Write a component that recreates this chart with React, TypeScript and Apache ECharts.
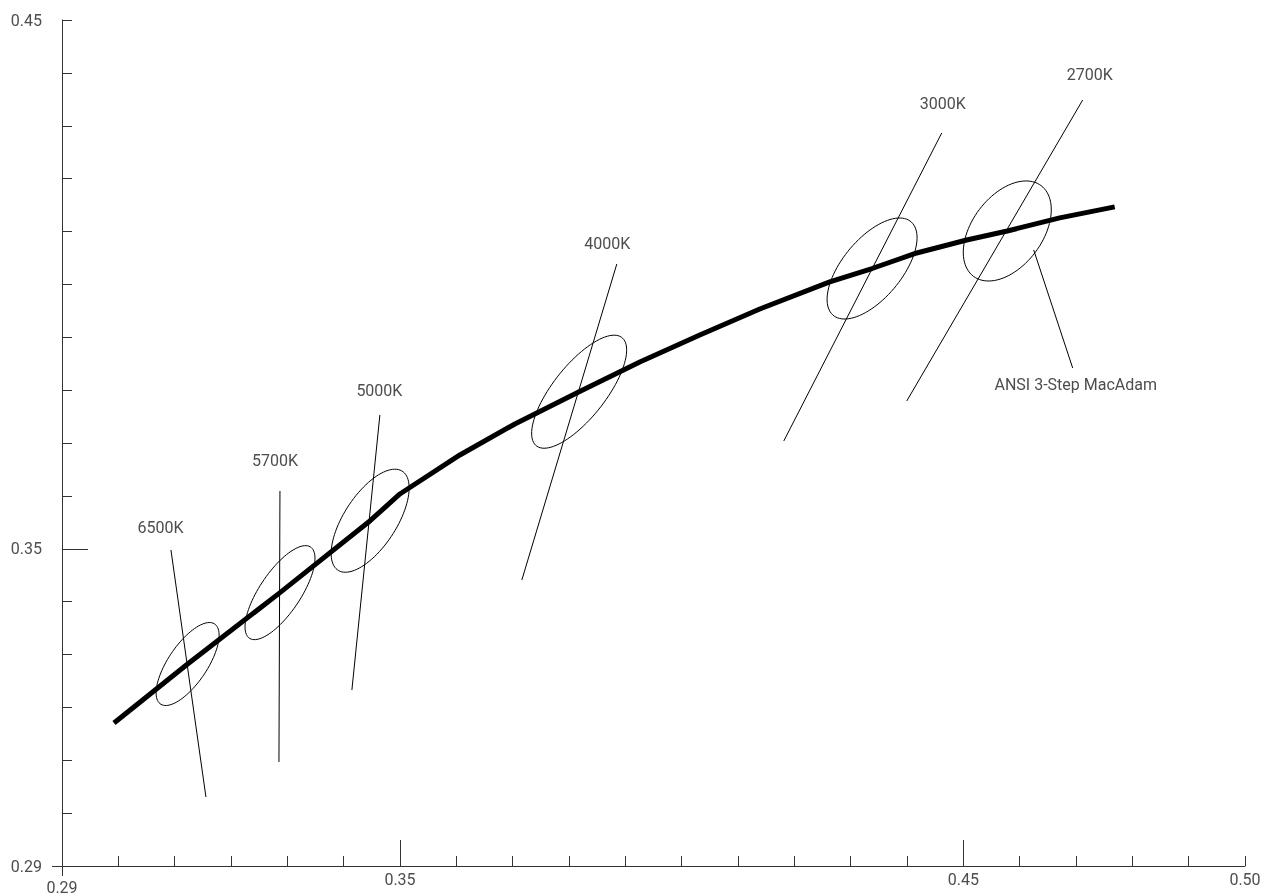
import React, { useEffect, useRef } from "react";
import * as echarts from "echarts";

// Axis ranges
const X_MIN = 0.29;
const X_MAX = 0.5;
const Y_MIN = 0.29;
const Y_MAX = 0.45;

// Tick labels
const xLabelValues = [0.35, 0.45, 0.5];
const xMajorTicks = [0.35, 0.45];
const yLabelValues = [0.29, 0.35, 0.45];
const yMajorTicks = [0.35];
const originValue = [0.29];

// Planckian locus (CIE x, y)
const locusX = [0.29923, 0.3123, 0.3287, 0.3447, 0.34998, 0.36063, 0.37039, 0.3818, 0.39257, 0.40322, 0.41387, 0.42629, 0.4338, 0.44173, 0.4506, 0.4578, 0.46711, 0.47687];
const locusY = [0.31705, 0.3282, 0.3417, 0.3553, 0.36036, 0.36774, 0.3736, 0.3797, 0.38533, 0.39044, 0.39535, 0.40046, 0.403, 0.40594, 0.4084, 0.4101, 0.41257, 0.41465];

// ANSI 3-step MacAdam ellipses: centre, semi-axes, rotation (deg)
const ellipseCCT = ["6500K", "5700K", "5000K", "4000K", "3000K", "2700K"];
const ellipseCx = [0.3123, 0.3287, 0.3447, 0.3818, 0.4338, 0.4578];
const ellipseCy = [0.3282, 0.3417, 0.3553, 0.3797, 0.403, 0.4101];
const ellipseA = [0.00897, 0.01019, 0.01097, 0.01275, 0.01123, 0.01048];
const ellipseB = [0.00352, 0.00371, 0.00475, 0.00478, 0.00538, 0.00638];
const ellipseAngle = [58.23, 58.34, 59.37, 54.0, 53.22, 57.17];

// Iso-CCT lines and the leader line for the ellipse annotation
const isoX1 = [0.30934, 0.32869, 0.34643, 0.38849, 0.44617, 0.47119, 0.46249];
const isoY1 = [0.34977, 0.36093, 0.3753, 0.40386, 0.42864, 0.43488, 0.40651];
const isoX2 = [0.31555, 0.32851, 0.34146, 0.37163, 0.41813, 0.43996, 0.46941];
const isoY2 = [0.30305, 0.30967, 0.32329, 0.3441, 0.37039, 0.37795, 0.38419];

// Text annotations
const labelText = ["6500K", "5700K", "5000K", "4000K", "3000K", "2700K", "ANSI 3-Step MacAdam"];
const labelX = [0.30748, 0.3278, 0.34634, 0.3868, 0.44634, 0.47243, 0.46995];
const labelY = [0.35393, 0.3666, 0.37984, 0.40765, 0.43413, 0.43961, 0.38098];

const TEXT_COLOR = "#4d4d4d";
const AXIS_COLOR = "#333";
const FONT = "Roboto, 'DejaVu Sans', sans-serif";
const FONT_SIZE = 16;

export default function App() {
  const ref = useRef<HTMLDivElement>(null);

  useEffect(() => {
    if (!ref.current) return;
    const chart = echarts.init(ref.current, undefined, { renderer: "svg" });

    const fmt = (v: number) => v.toFixed(2);
    const baseX = {
      type: "value",
      min: X_MIN,
      max: X_MAX,
      position: "bottom",
      splitLine: { show: false },
      axisLine: { onZero: false, show: false, lineStyle: { color: AXIS_COLOR, width: 1 } },
      axisLabel: { show: false },
      axisTick: { show: false },
    };
    const baseY = {
      type: "value",
      min: Y_MIN,
      max: Y_MAX,
      position: "left",
      splitLine: { show: false },
      axisLine: { onZero: false, show: false, lineStyle: { color: AXIS_COLOR, width: 1 } },
      axisLabel: { show: false },
      axisTick: { show: false },
    };

    const option: any = {
      animation: false,
      grid: { left: 62, right: 18, top: 20, bottom: 30, containLabel: false, outerBoundsMode: "none" },
      xAxis: [
        {
          ...baseX,
          interval: 0.01,
          axisLine: { onZero: false, show: true, lineStyle: { color: AXIS_COLOR, width: 1 } },
          axisTick: { show: true, inside: true, length: 10, lineStyle: { color: AXIS_COLOR, width: 1 } },
          axisLabel: {
            show: true,
            customValues: xLabelValues,
            formatter: fmt,
            margin: 5,
            color: TEXT_COLOR,
            fontSize: FONT_SIZE,
            fontFamily: FONT,
            hideOverlap: false,
          },
        },
        {
          ...baseX,
          axisTick: { show: true, inside: true, length: 26, customValues: xMajorTicks, lineStyle: { color: AXIS_COLOR, width: 1 } },
        },
        {
          ...baseX,
          axisTick: { show: true, inside: false, length: 10, customValues: originValue, lineStyle: { color: AXIS_COLOR, width: 1 } },
          axisLabel: {
            show: true,
            customValues: originValue,
            formatter: fmt,
            margin: 13,
            color: TEXT_COLOR,
            fontSize: FONT_SIZE,
            fontFamily: FONT,
          },
        },
      ],
      yAxis: [
        {
          ...baseY,
          interval: 0.01,
          axisLine: { onZero: false, show: true, lineStyle: { color: AXIS_COLOR, width: 1 } },
          axisTick: { show: true, inside: true, length: 10, lineStyle: { color: AXIS_COLOR, width: 1 } },
          axisLabel: {
            show: true,
            customValues: yLabelValues,
            formatter: fmt,
            margin: 20,
            color: TEXT_COLOR,
            fontSize: FONT_SIZE,
            fontFamily: FONT,
          },
        },
        {
          ...baseY,
          axisTick: { show: true, inside: true, length: 26, customValues: yMajorTicks, lineStyle: { color: AXIS_COLOR, width: 1 } },
        },
        {
          ...baseY,
          axisTick: { show: true, inside: false, length: 10, customValues: originValue, lineStyle: { color: AXIS_COLOR, width: 1 } },
        },
      ],
      series: [
        {
          type: "line",
          name: "locus",
          data: locusX.map((x, i) => [x, locusY[i]]),
          showSymbol: false,
          symbol: "none",
          smooth: false,
          lineStyle: { color: "#000", width: 5, join: "round" },
          z: 3,
        },
        ...isoX1.map((x, i) => ({
          type: "line",
          name: "iso" + i,
          data: [
            [x, isoY1[i]],
            [isoX2[i], isoY2[i]],
          ],
          showSymbol: false,
          symbol: "none",
          lineStyle: { color: "#000", width: 1 },
          z: 2,
        })),
        {
          type: "custom",
          name: "ellipses",
          data: ellipseCx.map((cx, i) => [cx, ellipseCy[i], ellipseA[i], ellipseB[i], ellipseAngle[i]]),
          encode: { x: 0, y: 1 },
          z: 2,
          renderItem: (_params: any, api: any) => {
            const cx = api.value(0);
            const cy = api.value(1);
            const a = api.value(2);
            const b = api.value(3);
            const th = (api.value(4) * Math.PI) / 180;
            const pts: number[][] = [];
            const n = 96;
            for (let k = 0; k < n; k++) {
              const t = (k / n) * Math.PI * 2;
              const dx = a * Math.cos(t);
              const dy = b * Math.sin(t);
              pts.push(api.coord([cx + dx * Math.cos(th) - dy * Math.sin(th), cy + dx * Math.sin(th) + dy * Math.cos(th)]));
            }
            return {
              type: "polygon",
              shape: { points: pts },
              style: { fill: "none", stroke: "#000", lineWidth: 1 },
            };
          },
        },
        {
          type: "custom",
          name: "labels",
          data: labelX.map((x, i) => [x, labelY[i]]),
          encode: { x: 0, y: 1 },
          z: 4,
          renderItem: (params: any, api: any) => {
            const p = api.coord([api.value(0), api.value(1)]);
            return {
              type: "text",
              x: p[0],
              y: p[1],
              style: {
                text: labelText[params.dataIndex],
                fill: TEXT_COLOR,
                fontSize: FONT_SIZE,
                fontFamily: FONT,
                align: "center",
                verticalAlign: "middle",
              },
            };
          },
        },
      ],
    };

    chart.setOption(option);
    return () => chart.dispose();
  }, []);

  return (
    <div
      ref={ref}
      style={{ position: "fixed", left: 0, top: 0, width: "1263px", height: "896px" }}
    />
  );
}
